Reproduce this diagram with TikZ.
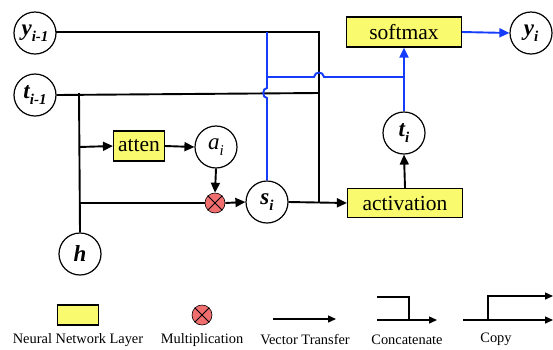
\documentclass[tikz,border=0pt]{standalone}
\usepackage{fontspec}
\setmainfont{Liberation Serif}
\usetikzlibrary{arrows.meta}
\definecolor{boxyellow}{RGB}{250,250,110}
\definecolor{mulred}{RGB}{240,110,110}
\definecolor{flowblue}{RGB}{20,60,250}
\newcommand{\bi}[1]{{\bfseries\itshape #1}}
\newcommand{\vsub}[2]{#1\raisebox{-6pt}{\fontsize{15}{15}\selectfont #2}}
\begin{document}
\begin{tikzpicture}[x=1pt,y=-1pt,
  var/.style={circle,draw,line width=1.2pt,fill=white,minimum size=42pt,inner sep=0pt,font=\rmfamily\fontsize{23}{23}\selectfont},
  layer/.style={draw,line width=1.2pt,fill=boxyellow,inner sep=0pt,font=\rmfamily\fontsize{21.5}{21.5}\selectfont},
  mul/.style={circle,draw,line width=0.6pt,fill=mulred,minimum size=20pt,inner sep=0pt},
  conn/.style={line width=1.9pt},
  arr/.style={conn,-{Triangle[length=10pt,width=9pt]}},
  barr/.style={arr,flowblue},
  bline/.style={conn,flowblue},
  legend/.style={font=\rmfamily\fontsize{14.4}{14.4}\selectfont,inner sep=0pt},
  larr/.style={line width=1.4pt,-{Triangle[length=8pt,width=7pt]}}
]
\useasboundingbox (0,0) rectangle (553,349);
% nodes
\node[var] (yprev) at (35,33) {\vsub{\bi{y}}{\bi{i-1}}};
\node[var] (tprev) at (35,95) {\vsub{\bi{t}}{\bi{i-1}}};
\node[var] (h) at (80,254) {\bi{h}};
\node[layer,minimum width=51pt,minimum height=30pt] (atten) at (139,146) {atten};
\node[var] (a) at (216,147) {\vsub{\itshape a}{\itshape i}};
\node[mul] (m) at (215,203) {};
\draw[line width=0.9pt] (m.45) -- (m.225) (m.135) -- (m.315);
\node[var] (s) at (267,202) {\vsub{\bi{s}}{\bi{i}}};
\node[layer,minimum width=115pt,minimum height=29pt] (act) at (405,203) {activation};
\node[var] (t) at (404,133) {\vsub{\bi{t}}{\bi{i}}};
\node[layer,minimum width=115pt,minimum height=30pt] (soft) at (404,32) {softmax};
\node[var] (y) at (531,33) {\vsub{\bi{y}}{\bi{i}}};
% coordinates
\coordinate (cy) at (319,32);
\coordinate (ct) at (319,93);
\coordinate (cs) at (319,203);
\coordinate (hv1) at (79,93);
\coordinate (hv2) at (79,147);
\coordinate (hv3) at (79,203);
\coordinate (btop) at (267,32);
\coordinate (bj) at (267,77);
\coordinate (bk) at (404,77);
% black connectors
\draw[conn] (yprev.east) |- (cy) -- (cs);
\draw[conn] (tprev.east) -- (ct);
\draw[conn] (h.north) -- (hv1);
\draw[arr] (hv2) -- (atten.west);
\draw[arr] (atten.east) -- (a.west);
\draw[arr] (a.south) -- (m.north);
\draw[conn] (hv3) -- (m.west);
\draw[arr] (m.east) -- (s.west);
\draw[arr] (s.east) -- (act.west);
\draw[arr] (act.north) -- (t.south);
% blue connectors
\draw[bline] (btop) -- (267,88) .. controls (262,88) and (262,98) .. (267,98) -- (s.north);
\draw[bline] (bj) -- (314,77) .. controls (315,71) and (323,71) .. (324,77) -- (bk);
\draw[barr] (t.north) -- (soft.south);
\draw[barr] (soft.east) -- (y.west);
% legend
\node[layer,minimum width=41pt,minimum height=20pt] (lg1) at (78,315) {};
\node[legend] (lt1) at (78,340) {Neural Network Layer};
\node[mul] (lg2) at (202,315) {};
\draw[line width=0.9pt] (lg2.45) -- (lg2.225) (lg2.135) -- (lg2.315);
\node[legend] (lt2) at (202,340) {Multiplication};
\coordinate (v1) at (273,319);
\coordinate (v2) at (336,319);
\draw[larr] (v1) -- (v2);
\node[legend] (lt3) at (305,340) {Vector Transfer};
\coordinate (c1) at (377,297);
\coordinate (c2) at (409,297);
\coordinate (c3) at (377,320);
\coordinate (c4) at (437,320);
\draw[line width=1.4pt] (c1) -- (c2) -- (409,320);
\draw[larr] (c3) -- (c4);
\node[legend] (lt4) at (407,340) {Concatenate};
\coordinate (p1) at (463,320);
\coordinate (p2) at (553,320);
\coordinate (p3) at (488,320);
\coordinate (p4) at (553,296);
\draw[larr] (p1) -- (p2);
\draw[larr] (p3) |- (p4);
\node[legend] (lt5) at (496,339) {Copy};
\end{tikzpicture}
\end{document}
